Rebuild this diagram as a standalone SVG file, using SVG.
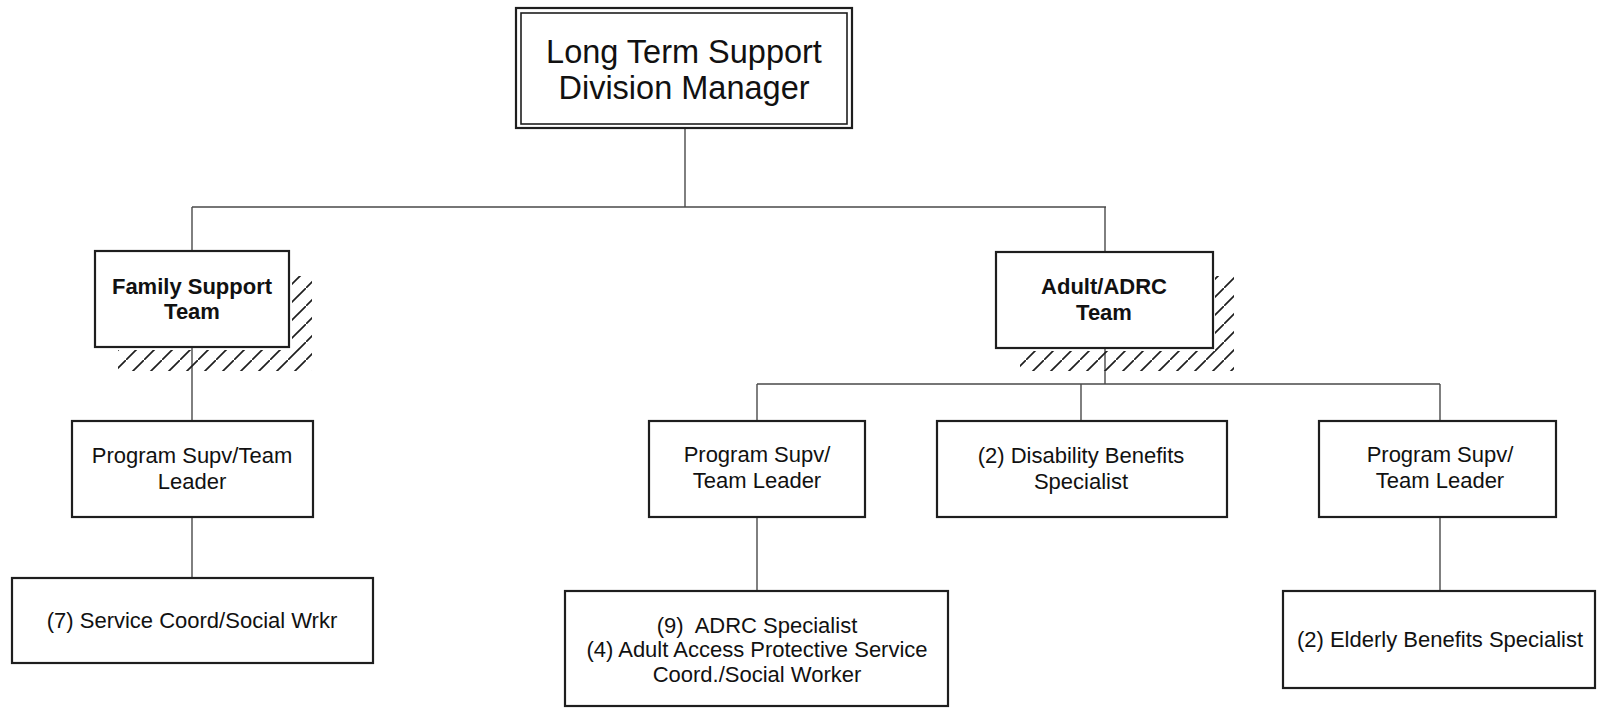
<svg xmlns="http://www.w3.org/2000/svg" width="1598" height="709" viewBox="0 0 1598 709">
  <style>
    .box { fill: #ffffff; stroke: #1e1e1e; stroke-width: 2.2; }
    .inner { fill: none; stroke: #1e1e1e; stroke-width: 1.6; }
    .link { fill: none; stroke: #4a4a4a; stroke-width: 1.4; }
    .lbl { font-family: "Liberation Sans", Arial, sans-serif; font-size: 22px; fill: #111; text-anchor: middle; }
    .bold { font-weight: bold; }
    .title { font-size: 32.5px; }
    .hatch { stroke: #1e1e1e; stroke-width: 1.7; }
  </style>
  <defs>
    <pattern id="diag" patternUnits="userSpaceOnUse" width="18" height="18">
      <line x1="-2" y1="20" x2="20" y2="-2" class="hatch"/>
    </pattern>
    <clipPath id="shadeFamily">
      <rect x="118" y="350" width="194" height="21"/>
      <rect x="292" y="276" width="20" height="95"/>
    </clipPath>
    <clipPath id="shadeAdult">
      <rect x="1020" y="351" width="214" height="20"/>
      <rect x="1215" y="276" width="19" height="95"/>
    </clipPath>
  </defs>

  <rect width="1598" height="709" fill="#ffffff"/>

  <!-- connectors -->
  <g id="connectors">
    <path class="link" d="M685 128 V207 M192 207 H1106 M192 207 V251 M1105 207 V252"/>
    <path class="link" d="M192 347 V421 M192 517 V578"/>
    <path class="link" d="M1105 348 V384 M757 384 H1440 M757 384 V421 M1081 384 V421 M1440 384 V421"/>
    <path class="link" d="M757 517 V591 M1440 517 V591"/>
  </g>

  <!-- shading behind the team boxes -->
  <g id="shade-family" clip-path="url(#shadeFamily)">
    <rect x="110" y="270" width="210" height="110" fill="url(#diag)"/>
  </g>
  <g id="shade-adult" clip-path="url(#shadeAdult)">
    <rect x="1010" y="270" width="230" height="110" fill="url(#diag)"/>
  </g>

  <g id="division-manager">
    <rect class="box" x="516" y="8" width="336" height="120"/>
    <rect class="inner" x="521" y="13" width="326" height="111"/>
    <text class="lbl title" x="684" y="63">Long Term Support</text>
    <text class="lbl title" x="684" y="99">Division Manager</text>
  </g>

  <g id="family-support">
    <rect class="box" x="95" y="251" width="194" height="96"/>
    <text class="lbl bold" x="192" y="294">Family Support</text>
    <text class="lbl bold" x="192" y="319">Team</text>
  </g>

  <g id="adult-adrc">
    <rect class="box" x="996" y="252" width="217" height="96"/>
    <text class="lbl bold" x="1104" y="294">Adult/ADRC</text>
    <text class="lbl bold" x="1104" y="320">Team</text>
  </g>

  <g id="family-supervisor">
    <rect class="box" x="72" y="421" width="241" height="96"/>
    <text class="lbl" x="192" y="463">Program Supv/Team</text>
    <text class="lbl" x="192" y="489">Leader</text>
  </g>

  <g id="service-coord">
    <rect class="box" x="12" y="578" width="361" height="85"/>
    <text class="lbl" x="192" y="628">(7) Service Coord/Social Wrkr</text>
  </g>

  <g id="adrc-supervisor">
    <rect class="box" x="649" y="421" width="216" height="96"/>
    <text class="lbl" x="757" y="462">Program Supv/</text>
    <text class="lbl" x="757" y="488">Team Leader</text>
  </g>

  <g id="disability-benefits">
    <rect class="box" x="937" y="421" width="290" height="96"/>
    <text class="lbl" x="1081" y="463">(2) Disability Benefits</text>
    <text class="lbl" x="1081" y="489">Specialist</text>
  </g>

  <g id="elderly-supervisor">
    <rect class="box" x="1319" y="421" width="237" height="96"/>
    <text class="lbl" x="1440" y="462">Program Supv/</text>
    <text class="lbl" x="1440" y="488">Team Leader</text>
  </g>

  <g id="adrc-staff">
    <rect class="box" x="565" y="591" width="383" height="115"/>
    <text class="lbl" x="757" y="633" xml:space="preserve">(9)  ADRC Specialist</text>
    <text class="lbl" x="757" y="657">(4) Adult Access Protective Service</text>
    <text class="lbl" x="757" y="682">Coord./Social Worker</text>
  </g>

  <g id="elderly-benefits">
    <rect class="box" x="1283" y="591" width="312" height="97"/>
    <text class="lbl" x="1440" y="647">(2) Elderly Benefits Specialist</text>
  </g>
</svg>
